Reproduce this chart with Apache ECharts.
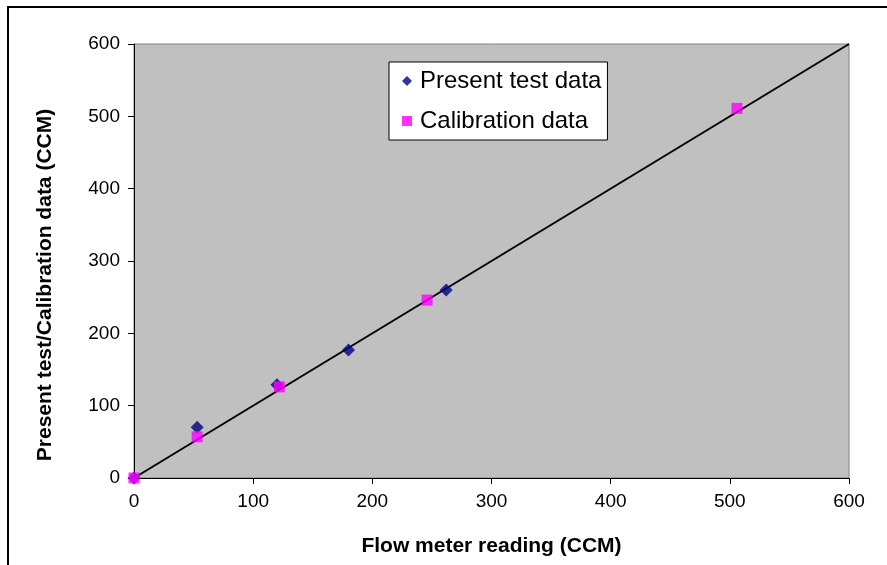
<!DOCTYPE html>
<html><head><meta charset="utf-8">
<script src="https://cdn.jsdelivr.net/npm/echarts@6/dist/echarts.min.js"></script>
<style>html,body{margin:0;padding:0;background:#fff}#c{width:887px;height:565px}</style>
</head><body><div id="c"></div>
<script>
const presentX = [0, 53, 120, 180, 262];
const presentY = [0, 70, 129, 177, 260];
const calibX = [0, 53, 122, 246, 506];
const calibY = [0, 57, 126, 246, 511];
const lineX = [0, 600];
const lineY = [0, 600];
const xTitle = 'Flow meter reading (CCM)';
const yTitle = 'Present test/Calibration data (CCM)';
const seriesNames = ['Present test data', 'Calibration data'];

const zip = (a, b) => a.map((v, i) => [v, b[i]]);
const FONT = 'Liberation Sans, Arial, sans-serif';
const chart = echarts.init(document.getElementById('c'));
chart.setOption({
  animation: false,
  graphic: [
    {type:'rect', shape:{x:8, y:7, width:900, height:600}, style:{fill:'none', stroke:'#000', lineWidth:2}, z:100},
    {type:'text', x:45, y:285, rotation:Math.PI/2, style:{text:yTitle, font:'bold 21px ' + FONT, fill:'#000', align:'center', verticalAlign:'middle'}, z:100}
  ],
  grid: {left:134, top:44, right:38, bottom:87, show:true, backgroundColor:'#c0c0c0', borderColor:'#808080', borderWidth:1},
  legend: {
    orient:'vertical', left:389, top:62,
    backgroundColor:'#fff', borderColor:'#000', borderWidth:1,
    padding:[7,6,7,13], itemWidth:10, itemHeight:10, itemGap:16,
    textStyle:{fontFamily:FONT, fontSize:24, color:'#000', padding:[0,0,0,3]},
    data:[{name:seriesNames[0], icon:'diamond'}, {name:seriesNames[1], icon:'rect'}]
  },
  xAxis: {
    type:'value', min:0, max:600, interval:100,
    name:xTitle, nameLocation:'middle', nameGap:58,
    nameTextStyle:{fontFamily:FONT, fontSize:21, fontWeight:'bold', color:'#000'},
    axisLine:{show:true, onZero:false, lineStyle:{color:'#000', width:1}},
    axisTick:{show:true, length:6, lineStyle:{color:'#000'}},
    axisLabel:{fontFamily:FONT, fontSize:19, color:'#000', margin:14},
    splitLine:{show:false}
  },
  yAxis: {
    type:'value', min:0, max:600, interval:100,
    axisLine:{show:true, onZero:false, lineStyle:{color:'#000', width:1}},
    axisTick:{show:true, length:6, lineStyle:{color:'#000'}},
    axisLabel:{fontFamily:FONT, fontSize:19, color:'#000', margin:14},
    splitLine:{show:false}
  },
  series: [
    {type:'line', name:'fit', data:zip(lineX, lineY), symbol:'none', lineStyle:{color:'#000', width:2}, z:1, silent:true},
    {type:'scatter', name:seriesNames[0], data:zip(presentX, presentY), symbol:'diamond', symbolSize:13, itemStyle:{color:'#000080'}, z:2},
    {type:'scatter', name:seriesNames[1], data:zip(calibX, calibY), symbol:'rect', symbolSize:11, itemStyle:{color:'#ff00ff'}, z:3}
  ]
});
</script></body></html>
